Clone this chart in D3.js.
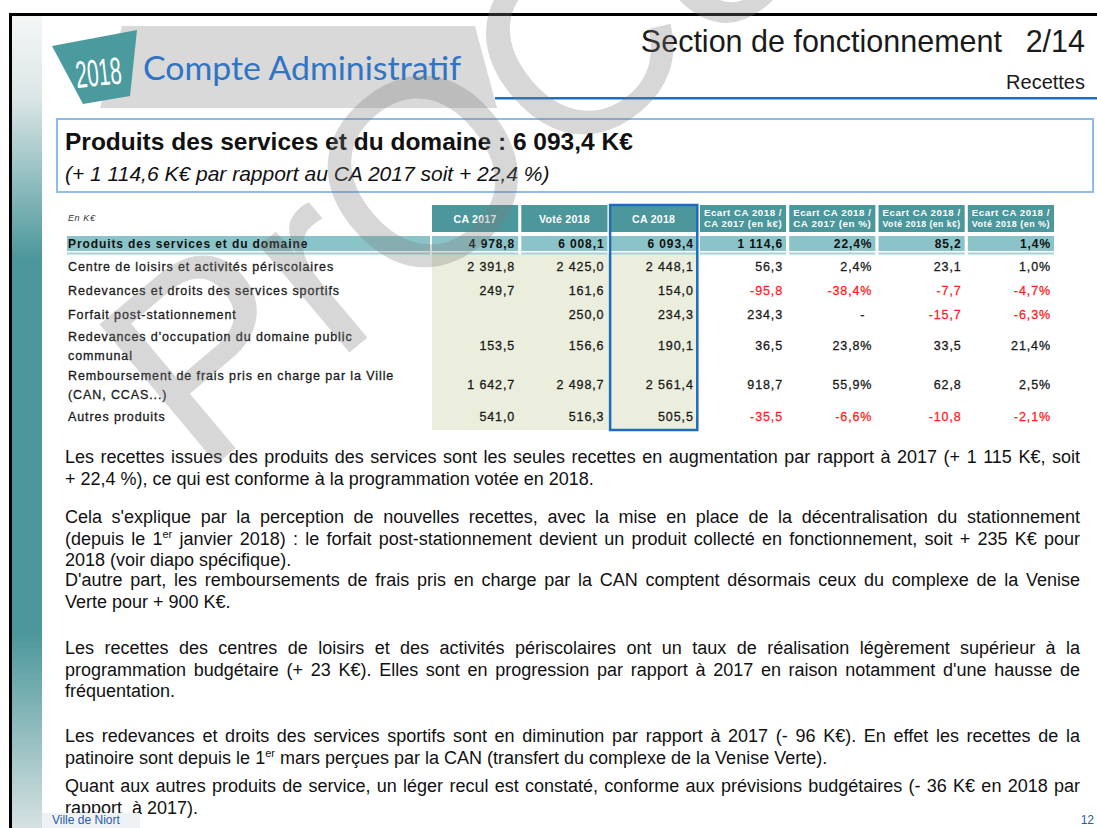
<!DOCTYPE html>
<html><head><meta charset="utf-8">
<script src="https://cdn.jsdelivr.net/npm/d3@7"></script>
<style>
html,body{margin:0;padding:0;background:#fff;}
svg{display:block;}
</style></head>
<body><svg id="c" width="1097" height="828"></svg>
<script>
// ---------------- DATA ----------------
const slideTitle = "Compte Administratif";
const slideYear = "2018";
const sectionTitle = "Section de fonctionnement";
const sectionPage = "2/14";
const sectionSub = "Recettes";
const boxTitle = "Produits des services et du domaine : 6 093,4 K€";
const boxSubtitle = "(+ 1 114,6 K€ par rapport au CA 2017 soit + 22,4 %)";
const unitLabel = "En K€";
const totalLabel = "Produits des services et du domaine";
const categories = [
  "Centre de loisirs et activités périscolaires",
  "Redevances et droits des services sportifs",
  "Forfait post-stationnement",
  "Redevances d'occupation du domaine public|communal",
  "Remboursement de frais pris en charge par la Ville|(CAN, CCAS...)",
  "Autres produits"
];
const columns = ["CA 2017", "Voté 2018", "CA 2018",
  "Ecart CA 2018 /|CA 2017 (en k€)", "Ecart CA 2018 /|CA 2017 (en %)",
  "Ecart CA 2018 /|Voté 2018 (en k€)", "Ecart CA 2018 /|Voté 2018 (en %)"];
const columnUnits = ["k", "k", "k", "k", "%", "k", "%"];
const ca2017      = [2391.8, 249.7, null, 153.5, 1642.7, 541.0];
const vote2018    = [2425.0, 161.6, 250.0, 156.6, 2498.7, 516.3];
const ca2018      = [2448.1, 154.0, 234.3, 190.1, 2561.4, 505.5];
const ecart17K    = [56.3, -95.8, 234.3, 36.5, 918.7, -35.5];
const ecart17Pct  = [2.4, -38.4, null, 23.8, 55.9, -6.6];
const ecartVoteK  = [23.1, -7.7, -15.7, 33.5, 62.8, -10.8];
const ecartVotePct= [1.0, -4.7, -6.3, 21.4, 2.5, -2.1];
const totals      = [4978.8, 6008.1, 6093.4, 1114.6, 22.4, 85.2, 1.4];
const series = [ca2017, vote2018, ca2018, ecart17K, ecart17Pct, ecartVoteK, ecartVotePct];

const textBlocks = [
  ["Les recettes issues des produits des services sont les seules recettes en augmentation par rapport à 2017 (+ 1 115 K€, soit",
   "+ 22,4 %), ce qui est conforme à la programmation votée en 2018."],
  ["Cela s'explique par la perception de nouvelles recettes, avec la mise en place de la décentralisation du stationnement",
   "(depuis le 1<sup>er</sup> janvier 2018) : le forfait post-stationnement devient un produit collecté en fonctionnement, soit + 235 K€ pour",
   "2018 (voir diapo spécifique)."],
  ["D'autre part, les remboursements de frais pris en charge par la CAN comptent désormais ceux du complexe de la Venise",
   "Verte pour + 900 K€."],
  ["Les recettes des centres de loisirs et des activités périscolaires ont un taux de réalisation légèrement supérieur à la",
   "programmation budgétaire (+ 23 K€). Elles sont en progression par rapport à 2017 en raison notamment d'une hausse de",
   "fréquentation."],
  ["Les redevances et droits des services sportifs sont en diminution par rapport à 2017 (- 96 K€). En effet les recettes de la",
   "patinoire sont depuis le 1<sup>er</sup> mars perçues par la CAN (transfert du complexe de la Venise Verte)."],
  ["Quant aux autres produits de service, un léger recul est constaté, conforme aux prévisions budgétaires (- 36 K€ en 2018 par",
   "rapport  à 2017)."]
];
const footerLeft = "Ville de Niort";
const footerRight = "12";
const watermark = "PrOCé";

// ---------------- LAYOUT ----------------
const W = 1097, H = 828;
const SANS = "'Liberation Sans', Arial, sans-serif";
const svg = d3.select("#c");
const defs = svg.append("defs");

// left gradient strip
const grad = defs.append("linearGradient").attr("id", "strip")
  .attr("x1", 0).attr("y1", 0).attr("x2", 0).attr("y2", 1);
[[0, "#f4f6f6"], [0.1, "#dce6e6"], [0.3, "#4b979b"], [0.76, "#4b979b"], [1, "#d6e1e1"]]
  .forEach(([o, c]) => grad.append("stop").attr("offset", o).attr("stop-color", c));
svg.append("rect").attr("x", 12).attr("y", 16).attr("width", 30).attr("height", H - 16).attr("fill", "url(#strip)");

// frame
svg.append("rect").attr("x", 9).attr("y", 13).attr("width", W).attr("height", 3).attr("fill", "#000");
svg.append("rect").attr("x", 9).attr("y", 13).attr("width", 3).attr("height", H).attr("fill", "#000");

// banner
svg.append("polygon").attr("points", "122,26 475,26 497,108 100,108").attr("fill", "#d9d9d9");
svg.append("polygon").attr("points", "52,46 137,30 130,96 83,104").attr("fill", "#4b9a9e");
svg.append("text").text(slideYear)
  .attr("transform", "translate(77,88) rotate(-6)")
  .attr("font-family", "'Liberation Sans Narrow', " + SANS).attr("font-size", 38)
  .attr("textLength", 46).attr("lengthAdjust", "spacingAndGlyphs").attr("fill", "#fff");
svg.append("text").text(slideTitle).attr("x", 143).attr("y", 80)
  .attr("font-family", "Lato, 'Open Sans', sans-serif").attr("font-size", 32)
  .attr("textLength", 318).attr("lengthAdjust", "spacingAndGlyphs").attr("fill", "#2f74c5");

svg.append("rect").attr("x", 495).attr("y", 97).attr("width", W - 495).attr("height", 2.5).attr("fill", "#1f6fbf");
svg.append("text").text(sectionTitle).attr("x", 1002).attr("y", 52).attr("text-anchor", "end")
  .attr("font-family", SANS).attr("font-size", 30.5).attr("fill", "#1a1a1a");
svg.append("text").text(sectionPage).attr("x", 1085).attr("y", 52).attr("text-anchor", "end")
  .attr("font-family", SANS).attr("font-size", 30.5).attr("fill", "#1a1a1a");
svg.append("text").text(sectionSub).attr("x", 1085).attr("y", 89).attr("text-anchor", "end")
  .attr("font-family", SANS).attr("font-size", 20).attr("fill", "#1a1a1a");

// title box
svg.append("rect").attr("x", 57).attr("y", 119).attr("width", 1036).attr("height", 73)
  .attr("fill", "none").attr("stroke", "#8fbbe9").attr("stroke-width", 2);
svg.append("text").text(boxTitle).attr("x", 65).attr("y", 150)
  .attr("font-family", SANS).attr("font-weight", "bold").attr("font-size", 24.5).attr("fill", "#111");
svg.append("text").text(boxSubtitle).attr("x", 65).attr("y", 181)
  .attr("font-family", SANS).attr("font-style", "italic").attr("font-size", 21).attr("fill", "#111");

// ---------------- TABLE ----------------
const locale = d3.formatLocale({decimal: ",", thousands: " ", grouping: [3], currency: ["", ""], minus: "-"});
const f1 = locale.format(",.1f");
const fmt = (v, unit) => v == null ? (unit === "%" ? "-" : "") : (unit === "%" ? f1(v) + "%" : f1(v));

const labelX = 67;
const x = d3.scaleBand().domain(columns).range([432, 1054]).paddingInner(0.035).paddingOuter(0);
const headTop = 205, headBot = 232, totTop = 236, totBot = 251, bodyTop = 254;
const lineH = 19;
const rowLines = categories.map(c => c.split("|").length);
const rowH = rowLines.map(n => n === 1 ? 24 : 39);
const rowY = rowH.map((h, i) => bodyTop + d3.sum(rowH.slice(0, i)));
const bodyBot = bodyTop + d3.sum(rowH);

const TF = SANS, TS = 12.5, LS = 0.9;

svg.append("text").text(unitLabel).attr("x", labelX + 1).attr("y", 221)
  .attr("font-family", TF).attr("font-style", "italic").attr("font-size", 9).attr("letter-spacing", 0.6).attr("fill", "#333");

// header cells
const head = svg.append("g");
head.selectAll("rect").data(columns).join("rect")
  .attr("x", d => x(d)).attr("y", headTop).attr("width", x.bandwidth()).attr("height", headBot - headTop)
  .attr("fill", "#4b979c");
columns.forEach(c => {
  const parts = c.split("|");
  const t = head.append("text").attr("text-anchor", "middle").attr("fill", "#fff")
    .attr("font-family", TF).attr("font-weight", "bold");
  if (parts.length === 1) {
    t.attr("x", x(c) + x.bandwidth() / 2).attr("y", (headTop + headBot) / 2 + 4)
      .attr("font-size", 10.5).attr("letter-spacing", 0.3).text(parts[0]);
  } else {
    parts.forEach((p, i) => t.append("tspan").attr("x", x(c) + x.bandwidth() / 2)
      .attr("y", headTop + 10.5 + i * 11).attr("font-size", 8.3).attr("letter-spacing", 0.45)
      .attr("textLength", x.bandwidth() - 8).attr("lengthAdjust", "spacingAndGlyphs").text(p));
  }
});

// beige background for the first three value columns
svg.append("rect").attr("x", x(columns[0])).attr("y", bodyTop)
  .attr("width", x(columns[2]) + x.bandwidth() - x(columns[0])).attr("height", bodyBot - bodyTop + 2)
  .attr("fill", "#ebeedd");

// total row
const tot = svg.append("g");
tot.append("rect").attr("x", labelX).attr("y", totTop).attr("width", x(columns[0]) - 2 - labelX)
  .attr("height", totBot - totTop).attr("fill", "#8bc4c8");
tot.append("rect").attr("x", labelX).attr("y", totBot + 1.5).attr("width", x(columns[0]) - 2 - labelX)
  .attr("height", 2).attr("fill", "#a7d2d5");
tot.selectAll("rect.c").data(columns).join("rect").attr("class", "c")
  .attr("x", d => x(d)).attr("y", totTop).attr("width", x.bandwidth()).attr("height", totBot - totTop)
  .attr("fill", "#8bc4c8");
tot.selectAll("rect.l").data(columns).join("rect").attr("class", "l")
  .attr("x", d => x(d)).attr("y", totBot + 1.5).attr("width", x.bandwidth()).attr("height", 2)
  .attr("fill", "#a7d2d5");
tot.append("text").text(totalLabel).attr("x", labelX + 1).attr("y", (totTop + totBot) / 2 + 4.5)
  .attr("font-family", TF).attr("font-weight", "bold").attr("font-size", 12).attr("letter-spacing", 0.9).attr("fill", "#111");
tot.selectAll("text.v").data(totals).join("text").attr("class", "v")
  .attr("x", (d, i) => x(columns[i]) + x.bandwidth() - 3).attr("y", (totTop + totBot) / 2 + 4.5)
  .attr("text-anchor", "end").attr("font-family", TF).attr("font-weight", "bold")
  .attr("font-size", 12).attr("letter-spacing", LS).attr("fill", "#111")
  .text((d, i) => fmt(d, columnUnits[i]));

// body rows
const body = svg.append("g");
categories.forEach((cat, r) => {
  const parts = cat.split("|");
  const cy = rowY[r] + rowH[r] / 2;
  parts.forEach((p, i) => {
    body.append("text").text(p).attr("x", labelX + 1)
      .attr("y", cy + 4.5 + (i - (parts.length - 1) / 2) * lineH)
      .attr("font-family", TF).attr("font-size", TS).attr("letter-spacing", LS)
      .attr("fill", "#1a1a1a").attr("stroke", "#1a1a1a").attr("stroke-width", 0.3);
  });
  series.forEach((s, c) => {
    const v = s[r];
    const neg = v != null && v < 0;
    body.append("text").text(fmt(v, columnUnits[c]))
      .attr("x", x(columns[c]) + x.bandwidth() - (v == null ? 10 : 3)).attr("y", cy + 4.5)
      .attr("text-anchor", "end").attr("font-family", TF).attr("font-size", TS).attr("letter-spacing", LS)
      .attr("fill", neg ? "#ff1e1e" : "#1a1a1a").attr("stroke", neg ? "#ff1e1e" : "#1a1a1a").attr("stroke-width", 0.3);
  });
});

// CA 2018 highlight
svg.append("rect").attr("x", x(columns[2]) - 0.5).attr("y", headTop)
  .attr("width", x.bandwidth() + 1).attr("height", bodyBot + 2 - headTop)
  .attr("fill", "none").attr("stroke", "#1c6cc2").attr("stroke-width", 2.5);

// ---------------- PARAGRAPHS ----------------
const blockTop = [463, 523, 586, 654, 742, 792];
const pLine = 21.5, pX = 65, pW = 1015, PS = 18;
const para = svg.append("g").attr("font-family", SANS).attr("font-size", PS).attr("fill", "#111");
textBlocks.forEach((lines, b) => {
  lines.forEach((line, i) => {
    const t = para.append("text").attr("x", pX).attr("y", blockTop[b] + i * pLine).attr("xml:space", "preserve");
    const segs = line.split(/(<sup>.*?<\/sup>)/).filter(s => s.length);
    let pending = 0;
    segs.forEach(s => {
      const m = s.match(/^<sup>(.*)<\/sup>$/);
      if (m) {
        t.append("tspan").attr("font-size", 11).attr("dy", -7).text(m[1]);
        pending = 7;
      } else {
        const ts = t.append("tspan").text(s);
        if (pending) { ts.attr("dy", pending); pending = 0; }
      }
    });
    const last = i === lines.length - 1;
    if (!last) {
      const w = t.node().getComputedTextLength();
      const spaces = (line.replace(/<\/?sup>/g, "").match(/ /g) || []).length;
      if (w < pW && spaces) t.attr("word-spacing", (pW - w) / spaces);
      else if (w > pW) t.attr("textLength", pW).attr("lengthAdjust", "spacingAndGlyphs");
    }
  });
});

// footer
svg.append("rect").attr("x", 42).attr("y", 813).attr("width", 98).attr("height", 15).attr("fill", "#eef2f5");
svg.append("text").text(footerLeft).attr("x", 52).attr("y", 824)
  .attr("font-family", SANS).attr("font-size", 12).attr("fill", "#2a5caa");
svg.append("text").text(footerRight).attr("x", 1094).attr("y", 824).attr("text-anchor", "end")
  .attr("font-family", SANS).attr("font-size", 12).attr("fill", "#2a5caa");

// watermark
svg.append("text").text(watermark)
  .attr("transform", "translate(200,478) rotate(-40)")
  .attr("font-family", SANS).attr("font-size", 265)
  .attr("fill", "#7a7a7a").attr("fill-opacity", 0.3);
</script>
</body></html>
